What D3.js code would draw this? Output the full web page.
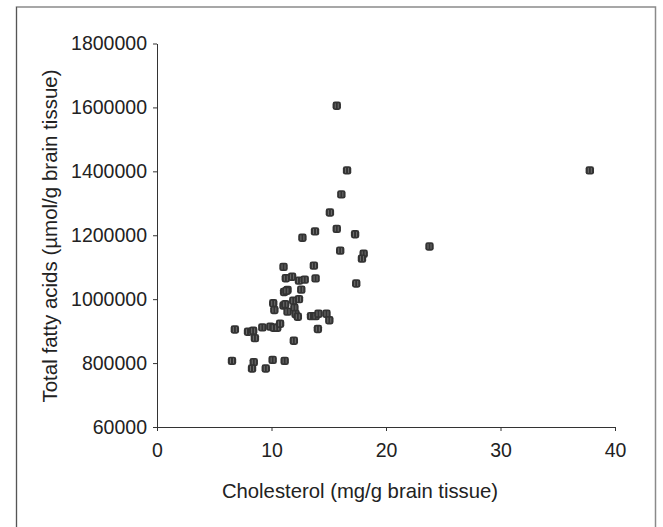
<!DOCTYPE html>
<html>
<head>
<meta charset="utf-8">
<script src="https://cdn.jsdelivr.net/npm/d3@7"></script>
<style>
  body { margin: 0; background: #fff; }
  text { font-family: "Liberation Sans", Arial, sans-serif; fill: #222; }
</style>
</head>
<body>
<svg id="chart" width="663" height="527"></svg>
<script>
var width = 663;
var height = 527;

// cholesterol (mg/g) and total fatty acids
var cholesterol = [15.7, 16.6, 16.1, 15.1, 13.8, 15.7, 17.3, 12.7, 16.0, 23.8,
    18.05, 17.9, 17.4, 11.05, 13.7, 11.25, 11.8, 12.4, 12.9, 13.85,
    12.6, 11.4, 11.1, 11.3, 11.9, 12.4, 10.15, 10.25, 11.05, 11.2,
    11.4, 12.0, 12.1, 12.3, 13.45, 13.85, 14.1, 14.8, 15.05, 14.05,
    11.95, 6.8, 7.95, 8.4, 8.55, 9.2, 9.9, 10.2, 10.5, 10.75,
    6.55, 8.45, 8.3, 9.5, 10.1, 11.15, 37.8];
var fattyAcids = [1605000, 1403000, 1328000, 1271000, 1212000, 1220000, 1203000, 1192000, 1152000, 1165000,
    1142000, 1127000, 1049000, 1101000, 1105000, 1065500, 1070000, 1058000, 1061000, 1065000,
    1030000, 1029000, 1022500, 1026000, 995000, 1000000, 987000, 966000, 980000, 984000,
    961000, 973000, 953500, 945000, 947000, 947000, 954500, 954500, 934000, 906500,
    870000, 905000, 898000, 901000, 878000, 911700, 914000, 910700, 910700, 923000,
    807000, 803000, 783000, 783000, 810000, 807000, 1403000];

var xTicks = [0, 10, 20, 30, 40];
var yTicks = [600000, 800000, 1000000, 1200000, 1400000, 1600000, 1800000];
var yTickLabels = ["60000", "800000", "1000000", "1200000", "1400000", "1600000", "1800000"];

var svg = d3.select("#chart");

// outer frame (bottom edge falls outside the picture)
svg.append("rect")
    .attr("x", 16.5).attr("y", 7)
    .attr("width", 639).attr("height", 560)
    .attr("fill", "none")
    .attr("stroke", "#8a8a8a")
    .attr("stroke-width", 1.5);
svg.append("line")
    .attr("x1", 16.5).attr("x2", 16.5).attr("y1", 7).attr("y2", height)
    .attr("stroke", "#555").attr("stroke-width", 1);

var xScale = d3.scaleLinear().domain([0, 40]).range([157, 615]);
var yScale = d3.scaleLinear().domain([600000, 1800000]).range([427, 43.5]);

var xAxis = d3.axisBottom(xScale)
    .tickValues(xTicks)
    .tickSize(4)
    .tickPadding(12)
    .tickSizeOuter(0);

var yAxis = d3.axisLeft(yScale)
    .tickValues(yTicks)
    .tickSize(4)
    .tickPadding(6)
    .tickSizeOuter(0)
    .tickFormat(function(d, i) { return yTickLabels[i]; });

var gx = svg.append("g")
    .attr("transform", "translate(0," + yScale(600000) + ")")
    .call(xAxis);
var gy = svg.append("g")
    .attr("transform", "translate(" + xScale(0) + ",0)")
    .call(yAxis);

[gx, gy].forEach(function(g) {
    g.selectAll("path, line").attr("stroke", "#333");
    g.selectAll("text")
        .style("font-family", "'Liberation Sans', Arial, sans-serif")
        .style("font-size", "19.5px")
        .attr("fill", "#222");
});

svg.append("text")
    .attr("x", 360)
    .attr("y", 498)
    .attr("text-anchor", "middle")
    .style("font-size", "20.3px")
    .text("Cholesterol (mg/g brain tissue)");

svg.append("text")
    .attr("transform", "translate(56.5,236) rotate(-90)")
    .attr("text-anchor", "middle")
    .style("font-size", "20.5px")
    .text("Total fatty acids (\u00b5mol/g brain tissue)");

// markers: small rounded squares
var points = cholesterol.map(function(c, i) { return { x: c, y: fattyAcids[i] }; });

var marks = svg.append("g").selectAll("g")
    .data(points)
    .enter().append("g")
    .attr("transform", function(d) { return "translate(" + xScale(d.x) + "," + yScale(d.y) + ")"; });

marks.append("rect")
    .attr("x", -4.2).attr("y", -4.2)
    .attr("width", 8.4).attr("height", 8.4)
    .attr("rx", 2.4)
    .attr("fill", "#333");

marks.append("path")
    .attr("d", "M-1.5,-2.5 L-1.5,2.5 M1.5,-2.5 L1.5,2.5")
    .attr("stroke", "#8a8a8a")
    .attr("stroke-width", 0.7);
</script>
</body>
</html>
